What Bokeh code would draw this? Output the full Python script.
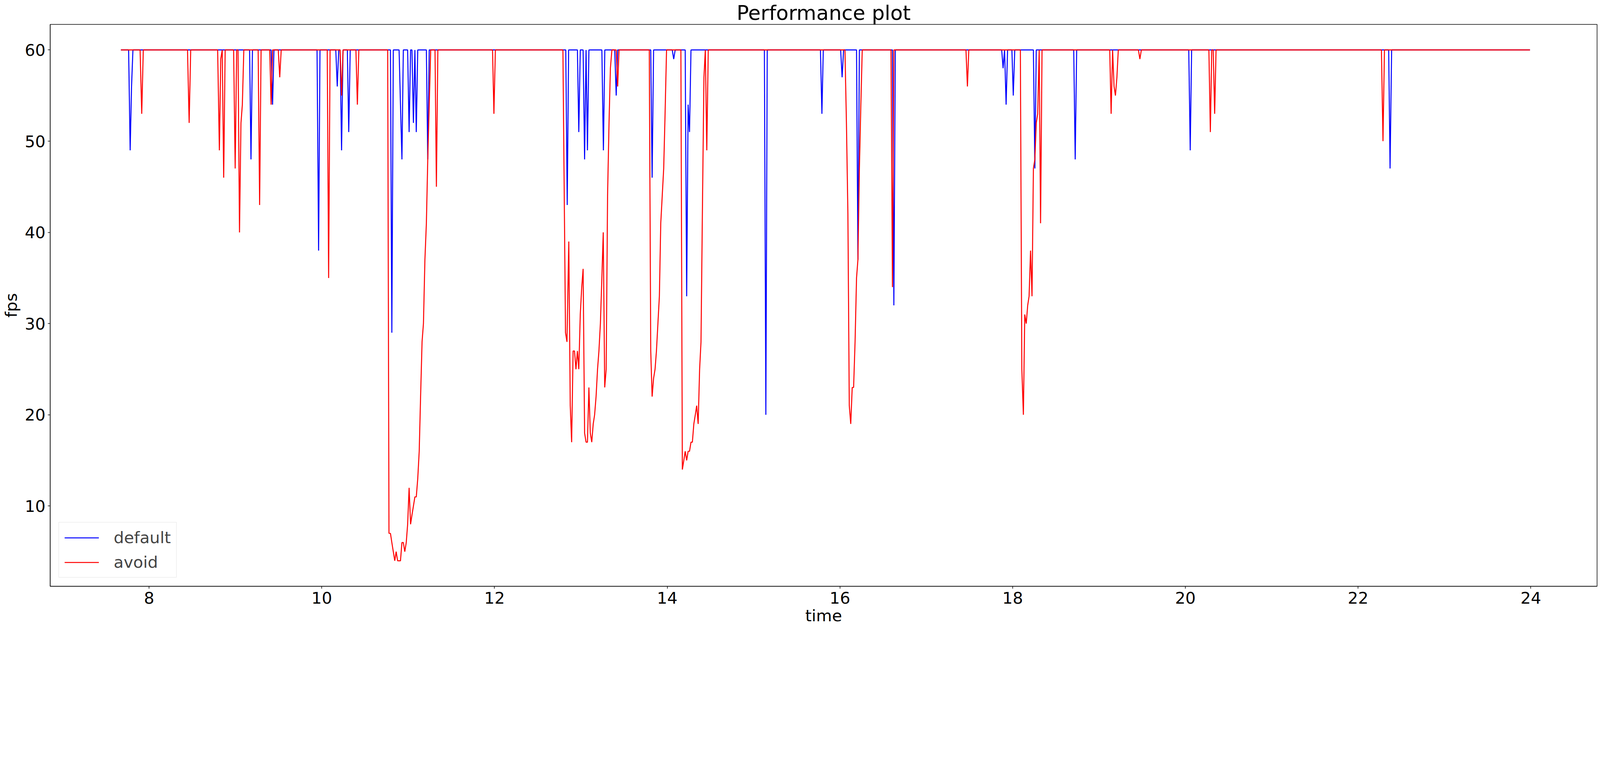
from bokeh.plotting import figure
from bokeh.models import Range1d, FixedTicker, Legend, LegendItem
from bokeh.embed import file_html
from bokeh.resources import INLINE

# ---- data (time in s, fps) ----
default_time = [7.674, 7.763, 7.781, 7.797, 7.813,
                9.164, 9.180, 9.197, 9.413, 9.430, 9.446,
                9.945, 9.963, 9.979, 10.162, 10.179, 10.196, 10.212, 10.229, 10.246,
                10.296, 10.312, 10.329, 10.795, 10.811, 10.828,
                10.895, 10.911, 10.928, 10.944, 10.994, 11.011, 11.028,
                11.044, 11.061, 11.078, 11.094, 11.111, 11.211, 11.227, 11.244,
                12.825, 12.842, 12.858, 12.960, 12.976, 12.993,
                13.026, 13.043, 13.060, 13.076, 13.093,
                13.243, 13.261, 13.277, 13.392, 13.409, 13.426,
                13.809, 13.825, 13.842, 14.058, 14.075, 14.092,
                14.208, 14.225, 14.242, 14.258, 14.275,
                15.125, 15.142, 15.158, 15.774, 15.791, 15.807,
                16.008, 16.025, 16.042, 16.192, 16.208, 16.225,
                16.608, 16.624, 16.641,
                17.873, 17.889, 17.906, 17.924, 17.941,
                17.991, 18.007, 18.024, 18.240, 18.257, 18.273,
                18.707, 18.724, 18.741, 20.039, 20.056, 20.072,
                22.354, 22.370, 22.388, 23.990]
default_fps = [60, 60, 49, 56, 60,
               60, 48, 60, 60, 54, 60,
               60, 38, 60, 60, 56, 60, 60, 49, 60,
               60, 51, 60, 60, 29, 60,
               60, 54, 48, 60, 60, 51, 60,
               60, 52, 60, 51, 60, 60, 48, 60,
               60, 43, 60, 60, 51, 60,
               60, 48, 60, 49, 60,
               60, 49, 60, 60, 55, 60,
               60, 46, 60, 60, 59, 60,
               60, 33, 54, 51, 60,
               60, 20, 60, 60, 53, 60,
               60, 57, 60, 60, 37, 60,
               60, 32, 60,
               60, 58, 60, 54, 60,
               60, 55, 60, 60, 47, 60,
               60, 48, 60, 60, 49, 60,
               60, 47, 60, 60]

avoid_time = [7.674, 7.896, 7.915, 7.933,
              8.445, 8.464, 8.482,
              8.794, 8.814, 8.830, 8.847, 8.864, 8.881,
              8.979, 8.997, 9.014, 9.030, 9.047, 9.064, 9.080, 9.097,
              9.263, 9.280, 9.297, 9.397, 9.413, 9.430, 9.496, 9.513, 9.530,
              10.063, 10.079, 10.096, 10.212, 10.229, 10.246, 10.395, 10.412, 10.429,
              10.763, 10.778, 10.795, 10.811, 10.828, 10.845, 10.861, 10.878, 10.895,
              10.911, 10.928, 10.944, 10.961, 10.978, 10.994, 11.011, 11.028, 11.044,
              11.061, 11.078, 11.094, 11.111, 11.128, 11.144, 11.161, 11.177, 11.194,
              11.211, 11.227, 11.244, 11.261,
              11.311, 11.327, 11.344, 11.977, 11.993, 12.010,
              12.792, 12.822, 12.839, 12.860, 12.877, 12.893, 12.910, 12.926, 12.943,
              12.960, 12.976, 12.993, 13.010, 13.026, 13.043, 13.060, 13.076, 13.093,
              13.109, 13.126, 13.143, 13.159, 13.176, 13.193, 13.209, 13.226, 13.243,
              13.259, 13.276, 13.293, 13.309, 13.326, 13.342, 13.359,
              13.409, 13.426, 13.442,
              13.792, 13.809, 13.825, 13.842, 13.859, 13.875, 13.892, 13.909, 13.925,
              13.942, 13.959, 13.975, 13.992,
              14.158, 14.175, 14.192, 14.208, 14.225, 14.242, 14.258, 14.275, 14.291,
              14.308, 14.325, 14.341, 14.358, 14.375, 14.391, 14.408, 14.425, 14.441,
              14.458, 14.475,
              16.058, 16.075, 16.092, 16.108, 16.125, 16.142, 16.158, 16.175, 16.192,
              16.208, 16.225, 16.242, 16.258,
              16.591, 16.608, 16.624, 17.459, 17.476, 17.492,
              18.089, 18.106, 18.124, 18.140, 18.157, 18.174, 18.190, 18.207, 18.224,
              18.240, 18.257, 18.273, 18.290, 18.307, 18.323, 18.340,
              19.124, 19.140, 19.157, 19.174, 19.190, 19.207, 19.223,
              19.456, 19.473, 19.490,
              20.272, 20.289, 20.305, 20.322, 20.339, 20.355,
              22.270, 22.288, 22.305, 23.990]
avoid_fps = [60, 60, 53, 60,
             60, 52, 60,
             60, 49, 59, 60, 46, 60,
             60, 47, 60, 60, 40, 52, 54, 60,
             60, 43, 60, 60, 54, 60, 60, 57, 60,
             60, 35, 60, 60, 55, 60, 60, 54, 60,
             60, 7, 7, 6, 5, 4, 5, 4, 4,
             4, 6, 6, 5, 6, 8, 12, 8, 9,
             10, 11, 11, 13, 16, 22, 28, 30, 37,
             41, 48, 54, 60,
             60, 45, 60, 60, 53, 60,
             60, 29, 28, 39, 21, 17, 27, 27, 25,
             27, 25, 31, 34, 36, 18, 17, 17, 23,
             18, 17, 19, 20, 22, 25, 27, 30, 35,
             40, 23, 25, 44, 52, 58, 60,
             60, 56, 60,
             60, 27, 22, 24, 25, 27, 30, 33, 41,
             44, 47, 53, 60,
             60, 14, 15, 16, 15, 16, 16, 17, 17,
             19, 20, 21, 19, 25, 28, 43, 57, 60,
             49, 60,
             60, 52, 42, 21, 19, 23, 23, 28, 35,
             37, 47, 54, 60,
             60, 34, 60, 60, 56, 60,
             60, 25, 20, 31, 30, 32, 33, 38, 33,
             47, 48, 52, 53, 60, 41, 60,
             60, 53, 60, 56, 55, 57, 60,
             60, 59, 60,
             60, 51, 60, 60, 53, 60,
             60, 50, 60, 60]

x_ticks = [8, 10, 12, 14, 16, 18, 20, 22, 24]
y_ticks = [10, 20, 30, 40, 50, 60]

FONT = "DejaVu Sans"

p = figure(width=4090, height=1603, output_backend="svg", toolbar_location=None,
           x_range=Range1d(6.855, 24.767), y_range=Range1d(1.2, 62.8),
           title="Performance plot", x_axis_label="time", y_axis_label="fps",
           min_border_left=117, min_border_right=2, min_border_top=58,
           min_border_bottom=10)

p.title.text_font = FONT
p.title.text_font_size = "52px"
p.title.text_font_style = "normal"
p.title.text_color = "black"
p.title.align = "center"
p.title.standoff = 0

for ax in (p.xaxis, p.yaxis):
    ax.axis_line_color = "black"
    ax.axis_line_width = 1.5
    ax.major_tick_in = 0
    ax.major_tick_out = 6
    ax.major_tick_line_width = 1.5
    ax.minor_tick_in = 0
    ax.minor_tick_out = 0
    ax.major_label_text_font = FONT
    ax.major_label_text_font_size = "41.6px"
    ax.major_label_text_color = "black"
    ax.axis_label_text_font = FONT
    ax.axis_label_text_font_size = "41.6px"
    ax.axis_label_text_font_style = "normal"
    ax.axis_label_text_color = "black"

p.xaxis.major_label_standoff = 8
p.xaxis.axis_label_standoff = 3
p.yaxis.major_label_standoff = 6
p.yaxis.axis_label_standoff = 8

p.xaxis.ticker = FixedTicker(ticks=x_ticks)
p.yaxis.ticker = FixedTicker(ticks=y_ticks)
p.grid.visible = False
p.outline_line_color = "black"
p.outline_line_width = 1.5
p.outline_line_alpha = 1.0

r_default = p.line(default_time, default_fps, line_color="#0000ff", line_width=2.6)
r_avoid = p.line(avoid_time, avoid_fps, line_color="#ff0000", line_width=2.6)

legend = Legend(items=[LegendItem(label="default", renderers=[r_default]),
                       LegendItem(label="avoid", renderers=[r_avoid])],
                location="bottom_left")
legend.label_text_font = FONT
legend.label_text_font_size = "41.6px"
legend.glyph_width = 88
legend.glyph_height = 48
legend.label_height = 48
legend.label_standoff = 38
legend.spacing = 14
legend.padding = 14
legend.margin = 22
legend.border_line_color = "#cccccc"
legend.border_line_width = 1.6
legend.background_fill_alpha = 0.8
p.add_layout(legend)

with open("out.html", "w") as f:
    f.write(file_html(p, INLINE))
